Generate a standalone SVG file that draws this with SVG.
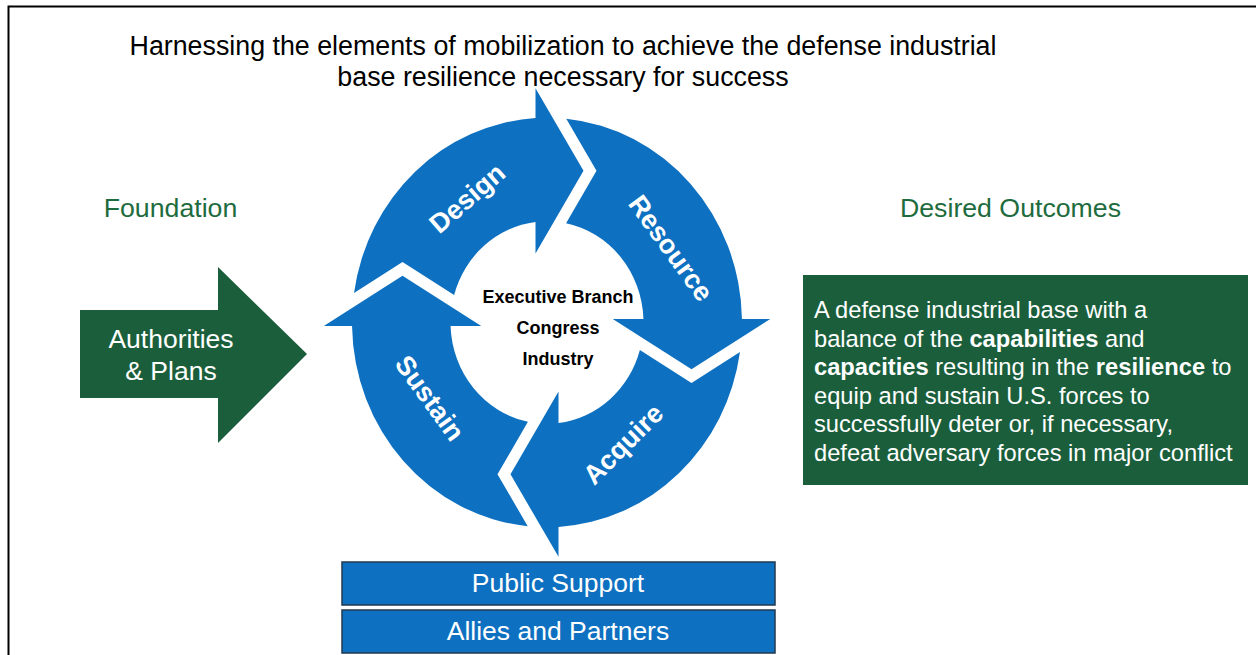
<svg xmlns="http://www.w3.org/2000/svg" width="1256" height="655" viewBox="0 0 1256 655">
  <style>
    text { font-family: "Liberation Sans", Arial, Helvetica, sans-serif; }
    .title { font-size: 26.8px; fill: #000; text-anchor: middle; }
    .head { font-size: 26.7px; fill: #1E6B3E; text-anchor: middle; }
    .cyc { fill: #0E70C0; }
    .lbl { font-size: 27px; font-weight: bold; fill: #fff; text-anchor: middle; }
    .core { font-size: 18px; font-weight: bold; fill: #000; text-anchor: middle; }
    .green { fill: #1A5E3B; }
    .wtext { font-size: 26.5px; fill: #fff; text-anchor: middle; }
    .body { font-size: 23.7px; fill: #fff; }
    .bar { fill: #0E70C0; stroke: #22384F; stroke-width: 1.5; }
    .b { font-weight: bold; }
  </style>
  <defs>
    <!-- ring segment with arrowhead, drawn for the top quadrant (head pointing clockwise) -->
    <path id="segA" d="M -192.97 -28.04 A 195 195 0 0 1 -11.5 -194.66 L -11.5 -223.2 L 36.5 -144.5 L -11.5 -65.75 L -11.5 -95.81 A 96.5 96.5 0 0 0 -92.89 -26.14 L -144.5 -57.6 Z"/>
    <path id="segB" d="M -194.04 -19.28 A 195 195 0 0 1 -3.4 -194.97 L -3.4 -223.2 L 44.6 -144.5 L -3.4 -65.75 L -3.4 -96.44 A 96.5 96.5 0 0 0 -94.6 -19.08 L -144.5 -49.5 Z"/>
  </defs>

  <rect x="0" y="0" width="1256" height="655" fill="#fff"/>
  <path d="M 8.5 655 V 6.5 H 1256" fill="none" stroke="#000" stroke-width="2"/>

  <g id="title">
    <text class="title" x="563" y="54.5">Harnessing the elements of mobilization to achieve the defense industrial</text>
    <text class="title" x="563" y="86">base resilience necessary for success</text>
  </g>

  <g id="foundation-label">
    <text class="head" x="170.5" y="216.5">Foundation</text>
  </g>
  <g id="outcomes-label">
    <text class="head" x="1010.5" y="216.5">Desired Outcomes</text>
  </g>

  <g id="authorities">
    <path class="green" d="M 80 310 H 218 V 267 L 307 354 L 218 443 V 398 H 80 Z"/>
    <text class="wtext" x="171" y="348">Authorities</text>
    <text class="wtext" x="171" y="380">&amp; Plans</text>
  </g>

  <g id="outcome">
    <rect class="green" x="803" y="275" width="445" height="210"/>
    <text class="body" x="814" y="318">A defense industrial base with a</text>
    <text class="body" x="814" y="346.5">balance of the <tspan class="b">capabilities</tspan> and</text>
    <text class="body" x="814" y="375"><tspan class="b">capacities</tspan> resulting in the <tspan class="b">resilience</tspan> to</text>
    <text class="body" x="814" y="403.5">equip and sustain U.S. forces to</text>
    <text class="body" x="814" y="432">successfully deter or, if necessary,</text>
    <text class="body" x="814" y="460.5">defeat adversary forces in major conflict</text>
  </g>

  <g id="design">
    <use href="#segA" class="cyc" transform="translate(547 322.5) scale(1 1.05)"/>
    <text class="lbl" transform="translate(467 198) rotate(-41)" dy="0.35em">Design</text>
  </g>
  <g id="resource">
    <use href="#segB" class="cyc" transform="translate(547 322.5) scale(1 1.05) rotate(90)"/>
    <text class="lbl" transform="translate(671 248) rotate(54)" dy="0.35em">Resource</text>
  </g>
  <g id="acquire">
    <use href="#segA" class="cyc" transform="translate(547 322.5) scale(1 1.05) rotate(180)"/>
    <text class="lbl" transform="translate(623 444) rotate(-45)" dy="0.35em">Acquire</text>
  </g>
  <g id="sustain">
    <use href="#segB" class="cyc" transform="translate(547 322.5) scale(1 1.05) rotate(-90)"/>
    <text class="lbl" transform="translate(430 398) rotate(54)" dy="0.35em">Sustain</text>
  </g>

  <g id="actors">
    <text class="core" x="558" y="303">Executive Branch</text>
    <text class="core" x="558" y="334">Congress</text>
    <text class="core" x="558" y="365">Industry</text>
  </g>

  <g id="public-support">
    <rect class="bar" x="342" y="562" width="433" height="43"/>
    <text class="wtext" x="558" y="592">Public Support</text>
  </g>
  <g id="allies">
    <rect class="bar" x="342" y="610" width="433" height="43"/>
    <text class="wtext" x="558" y="640">Allies and Partners</text>
  </g>
</svg>
